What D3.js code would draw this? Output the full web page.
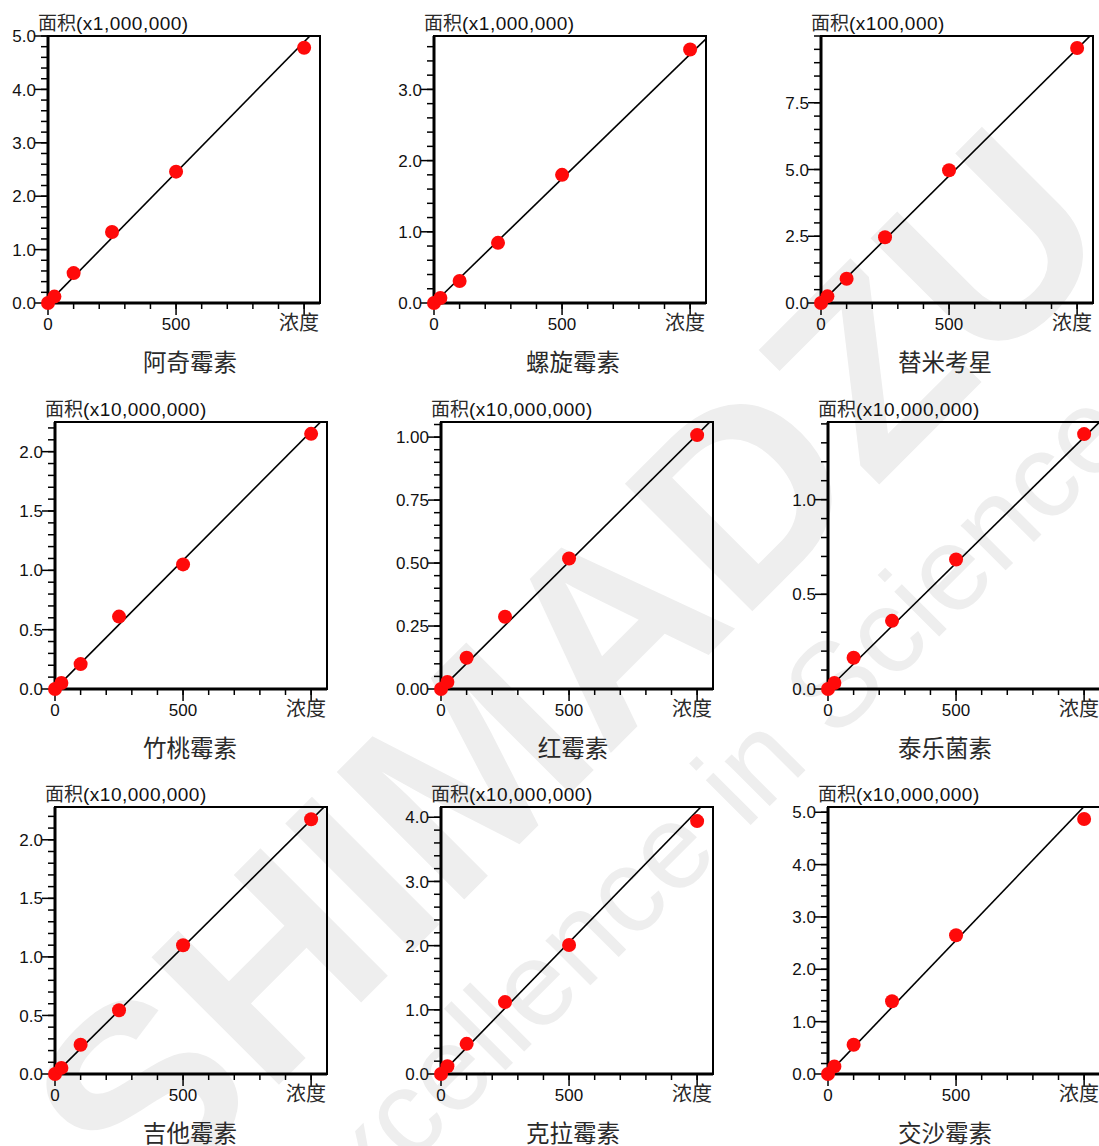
<!DOCTYPE html>
<html>
<head>
<meta charset="utf-8">
<script src="https://cdn.jsdelivr.net/npm/d3@7"></script>
<style>
  body { margin: 0; background: #fff; }
  svg { display: block; }
  text { font-family: "Liberation Sans", Arial, sans-serif; fill: #111; }
  .cjk { font-family: "Noto Sans CJK SC", sans-serif; fill: #2a2a2a; }
</style>
</head>
<body>
<div id="root"></div>
<script>
// Calibration data
const names = ['阿奇霉素', '螺旋霉素', '替米考星', '竹桃霉素', '红霉素', '泰乐菌素', '吉他霉素', '克拉霉素', '交沙霉素'];
const units = ['x1,000,000', 'x1,000,000', 'x100,000', 'x10,000,000', 'x10,000,000', 'x10,000,000', 'x10,000,000', 'x10,000,000', 'x10,000,000'];
const conc = [0, 25, 100, 250, 500, 1000];
const areas = [
  [0, 0.12, 0.56, 1.33, 2.46, 4.78],
  [0, 0.07, 0.31, 0.845, 1.80, 3.56],
  [0, 0.25, 0.91, 2.46, 4.97, 9.55],
  [0, 0.051, 0.21, 0.61, 1.05, 2.15],
  [0, 0.028, 0.124, 0.287, 0.518, 1.008],
  [0, 0.032, 0.165, 0.36, 0.684, 1.346],
  [0, 0.052, 0.25, 0.545, 1.10, 2.175],
  [0, 0.12, 0.47, 1.12, 2.01, 3.94],
  [0, 0.145, 0.56, 1.39, 2.65, 4.87]
];
// slope of the fitted calibration line (area units per concentration unit)
const slopes = [4.89e-3, 3.494e-3, 9.52e-3, 2.17e-3, 1.01e-3, 1.33e-3, 2.17e-3, 4.1e-3, 5.11e-3];
const yMax = [5.0, 3.75, 10.0, 2.25, 1.06, 1.41, 2.28, 4.16, 5.1];
const yMajor = [
  [0, 1, 2, 3, 4, 5],
  [0, 1, 2, 3],
  [0, 2.5, 5, 7.5],
  [0, 0.5, 1, 1.5, 2],
  [0, 0.25, 0.5, 0.75, 1],
  [0, 0.5, 1],
  [0, 0.5, 1, 1.5, 2],
  [0, 1, 2, 3, 4],
  [0, 1, 2, 3, 4, 5]
];
const yMinorStep = [0.2, 0.2, 0.5, 0.1, 0.05, 0.1, 0.1, 0.2, 0.2];
const yDecimals = [1, 1, 1, 1, 2, 1, 1, 1, 1];
const xMax = 1062;
const xMajor = [0, 500];
const xMinor = d3.range(0, 1001, 100);
const xEndLabel = '浓度';
const yLabel = '面积';

const W = 1099, H = 1146;
const boxW = 272, boxH = 267;
const rowTops = [36, 422, 807];
const colLefts = [[48, 434, 821], [55, 441, 828], [55, 441, 828]];
const titleX = [190, 573, 945];

const svg = d3.select('#root')
  .append('svg')
  .attr('width', W)
  .attr('height', H);

// Watermark
const wm = svg.append('g')
  .attr('transform', 'translate(600,700) rotate(-45)');
wm.append('text')
  .attr('text-anchor', 'middle')
  .attr('x', 0).attr('y', 45)
  .style('font-size', '262px')
  .style('font-weight', 'bold')
  .style('fill', '#eeeeee')
  .text('SHIMADZU');
wm.append('text')
  .attr('text-anchor', 'middle')
  .attr('x', -20).attr('y', 195)
  .style('font-size', '120px')
  .style('fill', '#eeeeee')
  .text('Excellence in Science');

names.forEach((name, i) => {
  const row = Math.floor(i / 3), col = i % 3;
  const left = colLefts[row][col], top = rowTops[row];

  const x = d3.scaleLinear().domain([0, xMax]).range([0, boxW]);
  const y = d3.scaleLinear().domain([0, yMax[i]]).range([boxH, 0]);

  const g = svg.append('g').attr('transform', `translate(${left},${top})`);

  // y ticks
  const yMinor = d3.range(0, yMax[i] + 1e-9, yMinorStep[i]);
  g.selectAll('.ymin').data(yMinor).enter().append('line')
    .attr('x1', -7).attr('x2', 0)
    .attr('y1', d => y(d)).attr('y2', d => y(d))
    .attr('stroke', '#000').attr('stroke-width', 1.5);
  g.selectAll('.ymaj').data(yMajor[i]).enter().append('line')
    .attr('x1', -13).attr('x2', 0)
    .attr('y1', d => y(d)).attr('y2', d => y(d))
    .attr('stroke', '#000').attr('stroke-width', 1.5);
  g.selectAll('.ylab').data(yMajor[i]).enter().append('text')
    .attr('x', -12).attr('y', d => y(d))
    .attr('dy', '0.36em')
    .attr('text-anchor', 'end')
    .style('font-size', '17px')
    .text(d => d3.format(`.${yDecimals[i]}f`)(d));

  // x ticks
  g.selectAll('.xmin').data(xMinor).enter().append('line')
    .attr('x1', d => x(d)).attr('x2', d => x(d))
    .attr('y1', boxH).attr('y2', boxH + 6)
    .attr('stroke', '#000').attr('stroke-width', 1.5);
  g.selectAll('.xmaj').data(xMajor.concat([1000])).enter().append('line')
    .attr('x1', d => x(d)).attr('x2', d => x(d))
    .attr('y1', boxH).attr('y2', boxH + 12)
    .attr('stroke', '#000').attr('stroke-width', 1.5);
  g.selectAll('.xlab').data(xMajor).enter().append('text')
    .attr('x', d => x(d)).attr('y', boxH + 27)
    .attr('text-anchor', 'middle')
    .style('font-size', '17px')
    .text(d => d);
  g.append('text')
    .attr('class', 'cjk')
    .attr('x', boxW - 1).attr('y', boxH + 27)
    .attr('text-anchor', 'end')
    .style('font-size', '20px')
    .text(xEndLabel);

  // y axis unit label
  const yl = g.append('text')
    .attr('x', -10).attr('y', -6)
    .style('font-size', '19px');
  yl.append('tspan').attr('class', 'cjk').text(yLabel);
  yl.append('tspan').style('letter-spacing', '0.5px').text(`(${units[i]})`);

  // frame
  g.append('rect')
    .attr('width', boxW).attr('height', boxH)
    .attr('fill', 'none').attr('stroke', '#000').attr('stroke-width', 2);
  g.append('path')
    .attr('d', `M0,0V${boxH}H${boxW}`)
    .attr('fill', 'none').attr('stroke', '#000').attr('stroke-width', 3);

  // fitted line
  const clipId = `clip${i}`;
  g.append('clipPath').attr('id', clipId)
    .append('rect').attr('width', boxW).attr('height', boxH);
  const lineData = [0, xMax].map(c => [c, slopes[i] * c]);
  g.append('path')
    .datum(lineData)
    .attr('clip-path', `url(#${clipId})`)
    .attr('d', d3.line().x(d => x(d[0])).y(d => y(d[1])))
    .attr('fill', 'none').attr('stroke', '#000').attr('stroke-width', 1.6);

  // points
  g.selectAll('.pt').data(conc.map((c, k) => [c, areas[i][k]])).enter()
    .append('circle')
    .attr('cx', d => x(d[0]))
    .attr('cy', d => y(d[1]))
    .attr('r', 7)
    .attr('fill', '#ff0a0a');

  // title
  svg.append('text')
    .attr('class', 'cjk')
    .attr('x', titleX[col]).attr('y', top + boxH + 68)
    .attr('text-anchor', 'middle')
    .style('font-size', '23.5px')
    .text(name);
});
</script>
</body>
</html>
